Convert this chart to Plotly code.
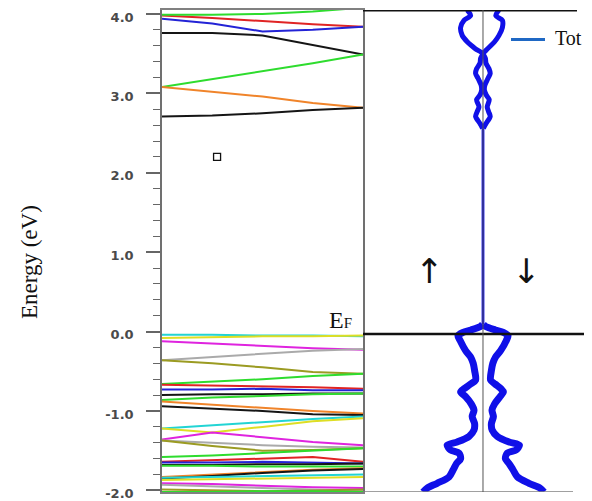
import plotly.graph_objects as go
import numpy as np

# ---------------- data ----------------
K = [0.0, 0.25, 0.5, 0.75, 1.0]

# conduction bands (eV)
c_red = [3.98, 3.95, 3.91, 3.87, 3.84]
c_green_top = [3.99, 3.99, 4.00, 4.03, 4.08]
c_blue = [3.94, 3.88, 3.78, 3.80, 3.84]
c_black_up = [3.76, 3.76, 3.73, 3.61, 3.49]
c_green_mid = [3.08, 3.18, 3.28, 3.38, 3.49]
c_orange = [3.08, 3.02, 2.96, 2.88, 2.82]
c_black_low = [2.71, 2.72, 2.75, 2.79, 2.82]

# valence bands (eV)
v_cyan = [-0.04, -0.04, -0.05, -0.05, -0.06]
v_yellow = [-0.08, -0.07, -0.06, -0.06, -0.05]
v_magenta = [-0.12, -0.15, -0.18, -0.21, -0.23]
v_gray = [-0.36, -0.32, -0.28, -0.24, -0.22]
v_olive = [-0.36, -0.40, -0.45, -0.51, -0.53]
v_green = [-0.66, -0.63, -0.60, -0.56, -0.53]
v_red = [-0.67, -0.68, -0.69, -0.70, -0.72]
v_blue = [-0.73, -0.73, -0.72, -0.74, -0.74]
v_black = [-0.80, -0.79, -0.79, -0.78, -0.78]
v_green2 = [-0.86, -0.83, -0.81, -0.79, -0.78]
v_orange = [-0.88, -0.92, -0.96, -1.00, -1.03]
v_black2 = [-0.94, -0.97, -1.00, -1.04, -1.05]
v_cyan2 = [-1.22, -1.18, -1.14, -1.10, -1.07]
v_yellow2 = [-1.22, -1.27, -1.20, -1.13, -1.09]
v_magenta2 = [-1.36, -1.27, -1.33, -1.39, -1.43]
v_gray2 = [-1.37, -1.40, -1.43, -1.45, -1.46]
v_olive2 = [-1.37, -1.44, -1.50, -1.49, -1.47]
v_green3 = [-1.58, -1.56, -1.53, -1.50, -1.47]
v_red3 = [-1.64, -1.62, -1.60, -1.58, -1.64]
v_blue3 = [-1.65, -1.65, -1.64, -1.65, -1.66]
v_black3 = [-1.68, -1.68, -1.67, -1.67, -1.66]
v_green4 = [-1.69, -1.69, -1.70, -1.70, -1.70]
v_orange3 = [-1.83, -1.80, -1.77, -1.74, -1.72]
v_black4 = [-1.85, -1.82, -1.78, -1.75, -1.73]
v_cyan3 = [-1.84, -1.83, -1.82, -1.81, -1.80]
v_yellow3 = [-1.87, -1.86, -1.85, -1.84, -1.83]
v_magenta3 = [-1.91, -1.92, -1.94, -1.96, -1.97]
v_gray3 = [-1.93, -1.95, -1.97, -1.99, -2.00]
v_olive3 = [-1.99, -2.00, -2.01, -2.00, -1.99]
v_green5 = [-2.02, -2.02, -2.01, -2.01, -2.02]

# total DOS (states/eV), spin up / spin down
DOS_E = [4.05, 3.98, 3.92, 3.83, 3.73, 3.65, 3.56, 3.50, 3.44, 3.38, 3.31, 3.25, 3.19,
         3.10, 3.04, 2.98, 2.92, 2.83, 2.77, 2.71, 2.62, 2.56, 0.09, 0.06, 0.02, -0.01,
         -0.05, -0.11, -0.24, -0.32, -0.40, -0.49, -0.61, -0.66, -0.72, -0.76, -0.82,
         -0.91, -0.99, -1.07, -1.16, -1.24, -1.32, -1.39, -1.43, -1.49, -1.53, -1.60,
         -1.66, -1.74, -1.83, -1.91, -1.97, -2.02]
DOS_UP = [0.79, 0.62, 0.95, 1.12, 1.04, 0.79, 0.37, 0.02, 0.12, 0.15, 0.32, 0.37, 0.25,
          0.09, 0.07, 0.15, 0.32, 0.20, 0.29, 0.37, 0.15, 0.02, 0.02, 0.15, 0.60, 1.00,
          1.25, 1.15, 0.87, 0.62, 0.49, 0.42, 0.37, 0.62, 0.95, 1.12, 0.87, 0.59, 0.45,
          0.54, 0.42, 0.45, 0.70, 1.29, 1.79, 1.62, 1.20, 1.12, 1.32, 1.49, 1.70, 2.29,
          2.79, 3.00]
DOS_DN = [0.80, 0.64, 0.97, 0.97, 0.80, 0.58, 0.22, 0.02, 0.12, 0.15, 0.30, 0.36, 0.25,
          0.09, 0.07, 0.16, 0.31, 0.21, 0.28, 0.36, 0.15, 0.02, 0.02, 0.16, 0.62, 1.02,
          1.25, 1.17, 0.88, 0.63, 0.49, 0.42, 0.38, 0.60, 0.90, 1.02, 0.85, 0.58, 0.45,
          0.52, 0.42, 0.46, 0.72, 1.30, 1.82, 1.65, 1.22, 1.12, 1.30, 1.50, 1.72, 2.30,
          2.85, 3.05]

YTICK_VALS = [-2, -1, 0, 1, 2, 3, 4]
YTICK_TEXT = ["-2.0", "-1.0", "0.0", "1.0", "2.0", "3.0", "4.0"]

MARKER_K = [0.274]
MARKER_E = [2.2]

# ---------------- styles ----------------
RED, GREEN, BLUE, BLACK = "#e02424", "#2edc2e", "#2323d6", "#151515"
ORANGE, CYAN, YELLOW = "#f0842a", "#22d4d4", "#dede24"
MAGENTA, GRAY, OLIVE = "#df24df", "#aaaaaa", "#9b9b22"

BANDS = [
    (c_red, RED), (c_green_top, GREEN), (c_blue, BLUE), (c_black_up, BLACK),
    (c_green_mid, GREEN), (c_orange, ORANGE), (c_black_low, BLACK),
    (v_cyan, CYAN), (v_yellow, YELLOW), (v_magenta, MAGENTA), (v_gray, GRAY),
    (v_olive, OLIVE), (v_green, GREEN), (v_red, RED), (v_blue, BLUE),
    (v_black, BLACK), (v_green2, GREEN), (v_orange, ORANGE), (v_black2, BLACK),
    (v_cyan2, CYAN), (v_yellow2, YELLOW), (v_magenta2, MAGENTA), (v_gray2, GRAY),
    (v_olive2, OLIVE), (v_green3, GREEN), (v_red3, RED), (v_blue3, BLUE),
    (v_black3, BLACK), (v_green4, GREEN), (v_orange3, ORANGE), (v_black4, BLACK),
    (v_cyan3, CYAN), (v_yellow3, YELLOW), (v_magenta3, MAGENTA), (v_gray3, GRAY),
    (v_olive3, OLIVE), (v_green5, GREEN),
]

fig = go.Figure()

for vals, col in BANDS:
    fig.add_trace(go.Scatter(x=K, y=vals, mode="lines", xaxis="x", yaxis="y",
                             line=dict(color=col, width=2), showlegend=False,
                             hoverinfo="skip"))

fig.add_trace(go.Scatter(x=MARKER_K, y=MARKER_E, mode="markers", xaxis="x", yaxis="y",
                         marker=dict(symbol="square-open", size=7,
                                     color="#111", line=dict(width=1.3)),
                         showlegend=False))

# DOS, split into regions of different stroke width
E = np.array(DOS_E)
up = -np.array(DOS_UP)
dn = np.array(DOS_DN)
regions = [(E >= 2.56, 5), ((E <= 2.56) & (E >= 0.09), 2.0), (E <= 0.09, 7)]
for mask, w in regions:
    for xs in (up, dn):
        fig.add_trace(go.Scatter(x=xs[mask], y=E[mask], mode="lines", xaxis="x2", yaxis="y",
                                 line=dict(color="#1010e8", width=w, shape="spline",
                                           smoothing=0.8),
                                 showlegend=False, hoverinfo="skip"))

YR = [-2.02, 4.05]
SPLIT = 0.4763
fig.update_layout(
    width=584, height=493,
    margin=dict(l=154, r=8, t=2, b=9, autoexpand=False),
    paper_bgcolor="white", plot_bgcolor="white",
    showlegend=False,
    xaxis=dict(domain=[0, SPLIT], range=[0, 1], showticklabels=False, ticks="",
               showgrid=False, zeroline=False, showline=True, mirror=True,
               linecolor="#808080", linewidth=1.5, automargin=False),
    xaxis2=dict(domain=[SPLIT, 1.0], range=[-6, 5.05], anchor="y", showticklabels=False,
                ticks="", showgrid=False, zeroline=False, showline=False, automargin=False),
    yaxis=dict(range=YR, tickvals=YTICK_VALS, ticktext=YTICK_TEXT, ticks="outside",
               ticklen=14, tickwidth=1.5, tickcolor="#666", showline=True, mirror=True,
               linecolor="#707070", linewidth=1.5, showgrid=False, zeroline=False,
               ticklabelstandoff=10, ticklabelshift=3, automargin=False,
               ticklabeloverflow="allow",
               tickfont=dict(family="DejaVu Sans", size=13, color="#4a4a4a", weight="bold"),
               minor=dict(dtick=0.2, tick0=0, ticks="outside", ticklen=7,
                          tickwidth=1.3, tickcolor="#666")),
)

# DOS frame / reference lines
fig.add_shape(type="line", xref="x2", yref="y", x0=-6, x1=4.7, y0=YR[1], y1=YR[1],
              line=dict(color="#111", width=3))
fig.add_shape(type="line", xref="x2", yref="y", x0=-6, x1=4.5, y0=YR[0], y1=YR[0],
              line=dict(color="#808080", width=1.5))
fig.add_shape(type="line", xref="x2", yref="y", x0=-6, x1=5.05, y0=-0.03, y1=-0.03,
              line=dict(color="#111", width=2.5))
fig.add_shape(type="line", xref="x2", yref="y", x0=0, x1=0, y0=YR[0], y1=YR[1],
              line=dict(color="#555", width=1))

# legend "Tot"
fig.add_shape(type="line", xref="x2", yref="y", x0=1.4, x1=3.1, y0=3.68, y1=3.68,
              line=dict(color="#1f68c4", width=3))
fig.add_annotation(xref="x2", yref="y", x=3.5, y=3.70, text="Tot", showarrow=False,
                   xanchor="left", yanchor="middle",
                   font=dict(family="Liberation Serif", size=20, color="#111"))

# spin arrows
fig.add_annotation(xref="x2", yref="y", x=-2.65, y=0.76, text="↑", showarrow=False,
                   font=dict(family="DejaVu Sans", size=34, color="#111"))
fig.add_annotation(xref="x2", yref="y", x=2.2, y=0.76, text="↓", showarrow=False,
                   font=dict(family="DejaVu Sans", size=34, color="#111"))

# E_F label
fig.add_annotation(xref="x", yref="y", x=0.955, y=0.15, text="E<span style='font-size:15px'>F</span>",
                   showarrow=False, xanchor="right", yanchor="middle",
                   font=dict(family="Liberation Serif", size=24, color="#111"))

# y-axis title
fig.add_annotation(xref="paper", yref="paper", x=0, y=0.477, xshift=-133,
                   text="Energy (eV)", textangle=-90, showarrow=False,
                   xanchor="center", yanchor="middle",
                   font=dict(family="Liberation Serif", size=23, color="#111"))

fig.write_html("out.html")
